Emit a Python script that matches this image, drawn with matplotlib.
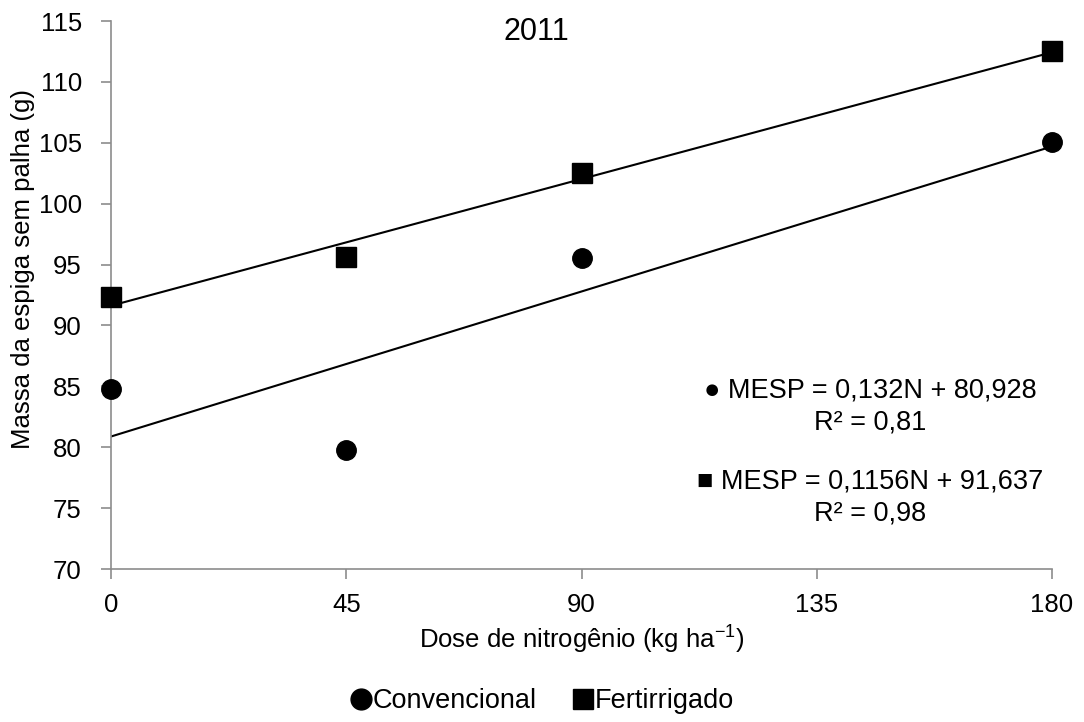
import numpy as np
import matplotlib.pyplot as plt
from matplotlib.lines import Line2D

plt.rcParams['font.family'] = ['Liberation Sans', 'DejaVu Sans']
plt.rcParams['mathtext.fontset'] = 'custom'
plt.rcParams['mathtext.rm'] = 'Liberation Sans'

doses = [0, 45, 90, 180]
convencional = [84.8, 79.8, 95.5, 105.1]
fertirrigado = [92.3, 95.6, 102.5, 112.5]
x_ticks = [0, 45, 90, 135, 180]
y_ticks = [70, 75, 80, 85, 90, 95, 100, 105, 110, 115]

fs = 18.5
fs_eq = 19.5
fig = plt.figure(figsize=(10.84, 7.22), dpi=100)
ax = fig.add_axes([0.1024, 0.2119, 0.8681, 0.759])

x = np.array(doses)
for serie, marker in [(convencional, 'o'), (fertirrigado, 's')]:
    coef = np.polyfit(x, serie, 1)
    ax.plot([0, 180], np.polyval(coef, [0, 180]), color='black', lw=1.5, zorder=2)
    ax.plot(x, serie, linestyle='none', marker=marker, color='black', ms=14, zorder=3, clip_on=False)

ax.set_xlim(0, 180)
ax.set_ylim(70, 115)
ax.set_xticks(x_ticks)
ax.set_yticks(y_ticks)
ax.tick_params(axis='both', labelsize=fs, color='#8c8c8c', length=7, width=1.2)
ax.tick_params(axis='y', pad=14)
ax.tick_params(axis='x', pad=10)
for side in ['top', 'right']:
    ax.spines[side].set_visible(False)
for side in ['left', 'bottom']:
    ax.spines[side].set_color('#8c8c8c')
    ax.spines[side].set_linewidth(1.2)

ax.set_xlabel('Dose de nitrogênio (kg ha$^{-1}$)', fontsize=fs, labelpad=4)
ax.set_ylabel('Massa da espiga sem palha (g)', fontsize=fs)
ax.yaxis.set_label_coords(-0.081, 0.547)
ax.text(0.452, 1.008, '2011', transform=ax.transAxes, ha='center', va='top', fontsize=22)

ax.text(0.8066, 0.3266, '● MESP = 0,132N + 80,928', transform=ax.transAxes, ha='center', va='center', fontsize=fs_eq)
ax.text(0.8066, 0.268, 'R² = 0,81', transform=ax.transAxes, ha='center', va='center', fontsize=fs_eq)
ax.text(0.8066, 0.159, '■ MESP = 0,1156N + 91,637', transform=ax.transAxes, ha='center', va='center', fontsize=fs_eq)
ax.text(0.8066, 0.102, 'R² = 0,98', transform=ax.transAxes, ha='center', va='center', fontsize=fs_eq)

handles = [Line2D([], [], ls='none', marker='o', color='black', ms=15),
           Line2D([], [], ls='none', marker='s', color='black', ms=15)]
fig.legend(handles, ['Convencional', 'Fertirrigado'], loc='center', bbox_to_anchor=(0.5, 0.029),
           ncol=2, frameon=False, fontsize=19.5, handlelength=0.8, handletextpad=0.05, columnspacing=1.3)

fig.savefig('out.png', dpi=100)
